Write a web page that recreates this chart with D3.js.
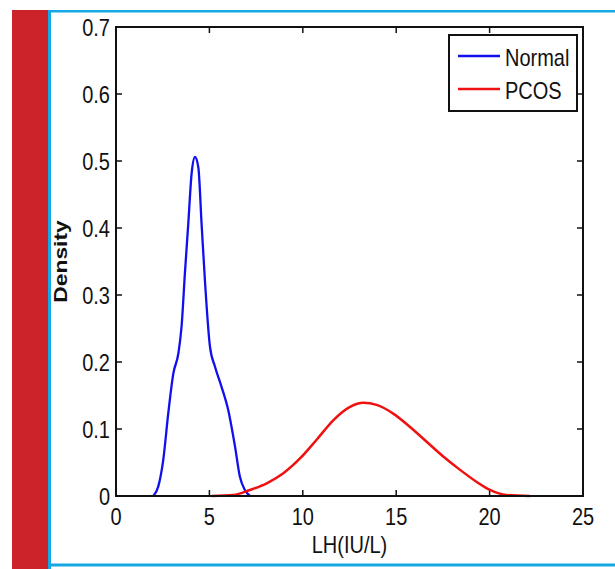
<!DOCTYPE html>
<html>
<head>
<meta charset="utf-8">
<script src="https://d3js.org/d3.v7.min.js"></script>
<style>
body { margin: 0; background: #fff; }
svg text { font-family: Arial, "Liberation Sans", sans-serif; fill: #111; }
</style>
</head>
<body>
<svg width="615" height="569"></svg>
<script>
// density curves: [LH, density]
var normalX = [2.0, 2.26, 2.53, 2.8, 3.07, 3.34, 3.51, 3.69, 3.87, 4.05, 4.23, 4.41, 4.58, 4.76, 5.03, 5.3, 5.65, 6.01, 6.37, 6.63, 6.9, 7.17];
var normalY = [0, 0.014, 0.054, 0.124, 0.183, 0.213, 0.253, 0.333, 0.407, 0.482, 0.506, 0.49, 0.407, 0.322, 0.223, 0.193, 0.163, 0.128, 0.074, 0.029, 0.009, 0];
var pcosX = [5.12, 6.28, 7.17, 8.07, 8.96, 9.85, 10.74, 11.63, 12.53, 13.24, 13.95, 14.84, 15.74, 16.63, 17.52, 18.42, 19.31, 20.02, 20.91, 22.16];
var pcosY = [0, 0.0015, 0.009, 0.019, 0.034, 0.056, 0.084, 0.113, 0.133, 0.139, 0.136, 0.123, 0.103, 0.081, 0.059, 0.039, 0.021, 0.009, 0.0015, 0];
var xTicks = [0, 5, 10, 15, 20, 25];
var yTicks = [0, 0.1, 0.2, 0.3, 0.4, 0.5, 0.6, 0.7];
var seriesNames = ["Normal", "PCOS"];
var seriesColors = ["#1010ee", "#f01010"];

var svg = d3.select("svg");

// page decoration: red side bar and cyan frame
svg.append("rect").attr("x", 12).attr("y", 10).attr("width", 36).attr("height", 559).attr("fill", "#cc222a");
svg.append("rect").attr("x", 48).attr("y", 10).attr("width", 567).attr("height", 2.5).attr("fill", "#14a8e4");
svg.append("rect").attr("x", 48).attr("y", 10).attr("width", 3).attr("height", 559).attr("fill", "#14a8e4");
svg.append("rect").attr("x", 48).attr("y", 563.5).attr("width", 567).attr("height", 3).attr("fill", "#14a8e4");

var pLeft = 116, pRight = 583, pTop = 27, pBottom = 496;
var x = d3.scaleLinear().domain([0, 25]).range([pLeft, pRight]);
var y = d3.scaleLinear().domain([0, 0.7]).range([pBottom, pTop]);

var line = d3.line()
    .x(function(d) { return x(d[0]); })
    .y(function(d) { return y(d[1]); })
    .curve(d3.curveMonotoneX);

// the source picture is stretched a bit vertically
var stretch = "scale(1,1.2)";

// ticks (inward, mirrored like matlab)
var g = svg.append("g");
xTicks.forEach(function(t) {
  g.append("line").attr("x1", x(t)).attr("x2", x(t)).attr("y1", pBottom).attr("y2", pBottom - 6).attr("stroke", "#111").attr("stroke-width", 1.5);
  g.append("line").attr("x1", x(t)).attr("x2", x(t)).attr("y1", pTop).attr("y2", pTop + 6).attr("stroke", "#111").attr("stroke-width", 1.5);
  g.append("text").attr("transform", "translate(" + x(t) + ",525) " + stretch)
    .attr("text-anchor", "middle").attr("font-size", 20).text(t);
});
yTicks.forEach(function(t) {
  g.append("line").attr("x1", pLeft).attr("x2", pLeft + 6).attr("y1", y(t)).attr("y2", y(t)).attr("stroke", "#111").attr("stroke-width", 1.5);
  g.append("line").attr("x1", pRight).attr("x2", pRight - 6).attr("y1", y(t)).attr("y2", y(t)).attr("stroke", "#111").attr("stroke-width", 1.5);
  g.append("text").attr("transform", "translate(110," + (y(t) + 8.5) + ") " + stretch)
    .attr("text-anchor", "end").attr("font-size", 20).text(d3.format("")(t));
});

// curves
svg.append("path").datum(d3.zip(normalX, normalY)).attr("d", line)
  .attr("fill", "none").attr("stroke", seriesColors[0]).attr("stroke-width", 2.3);
svg.append("path").datum(d3.zip(pcosX, pcosY)).attr("d", line)
  .attr("fill", "none").attr("stroke", seriesColors[1]).attr("stroke-width", 2.5);

// axes box
svg.append("rect").attr("x", pLeft).attr("y", pTop).attr("width", pRight - pLeft).attr("height", pBottom - pTop)
  .attr("fill", "none").attr("stroke", "#111").attr("stroke-width", 2);

// axis labels
svg.append("text").attr("transform", "translate(" + ((pLeft + pRight) / 2) + ",553) " + stretch)
  .attr("text-anchor", "middle").attr("font-size", 20).text("LH(IU/L)");
svg.append("text").attr("transform", "translate(67," + ((pTop + pBottom) / 2) + ") " + stretch + " rotate(-90)")
  .attr("text-anchor", "middle").attr("font-size", 19).attr("font-weight", "bold").text("Density");

// legend
var lg = svg.append("g");
lg.append("rect").attr("x", 449).attr("y", 35).attr("width", 128).attr("height", 76)
  .attr("fill", "#fff").attr("stroke", "#111").attr("stroke-width", 2);
seriesNames.forEach(function(name, i) {
  var ly = 56 + i * 33;
  lg.append("line").attr("x1", 458).attr("x2", 500).attr("y1", ly).attr("y2", ly)
    .attr("stroke", seriesColors[i]).attr("stroke-width", 2.3);
  lg.append("text").attr("transform", "translate(505," + (ly + 10) + ") " + stretch)
    .attr("font-size", 20).text(name);
});
</script>
</body>
</html>
